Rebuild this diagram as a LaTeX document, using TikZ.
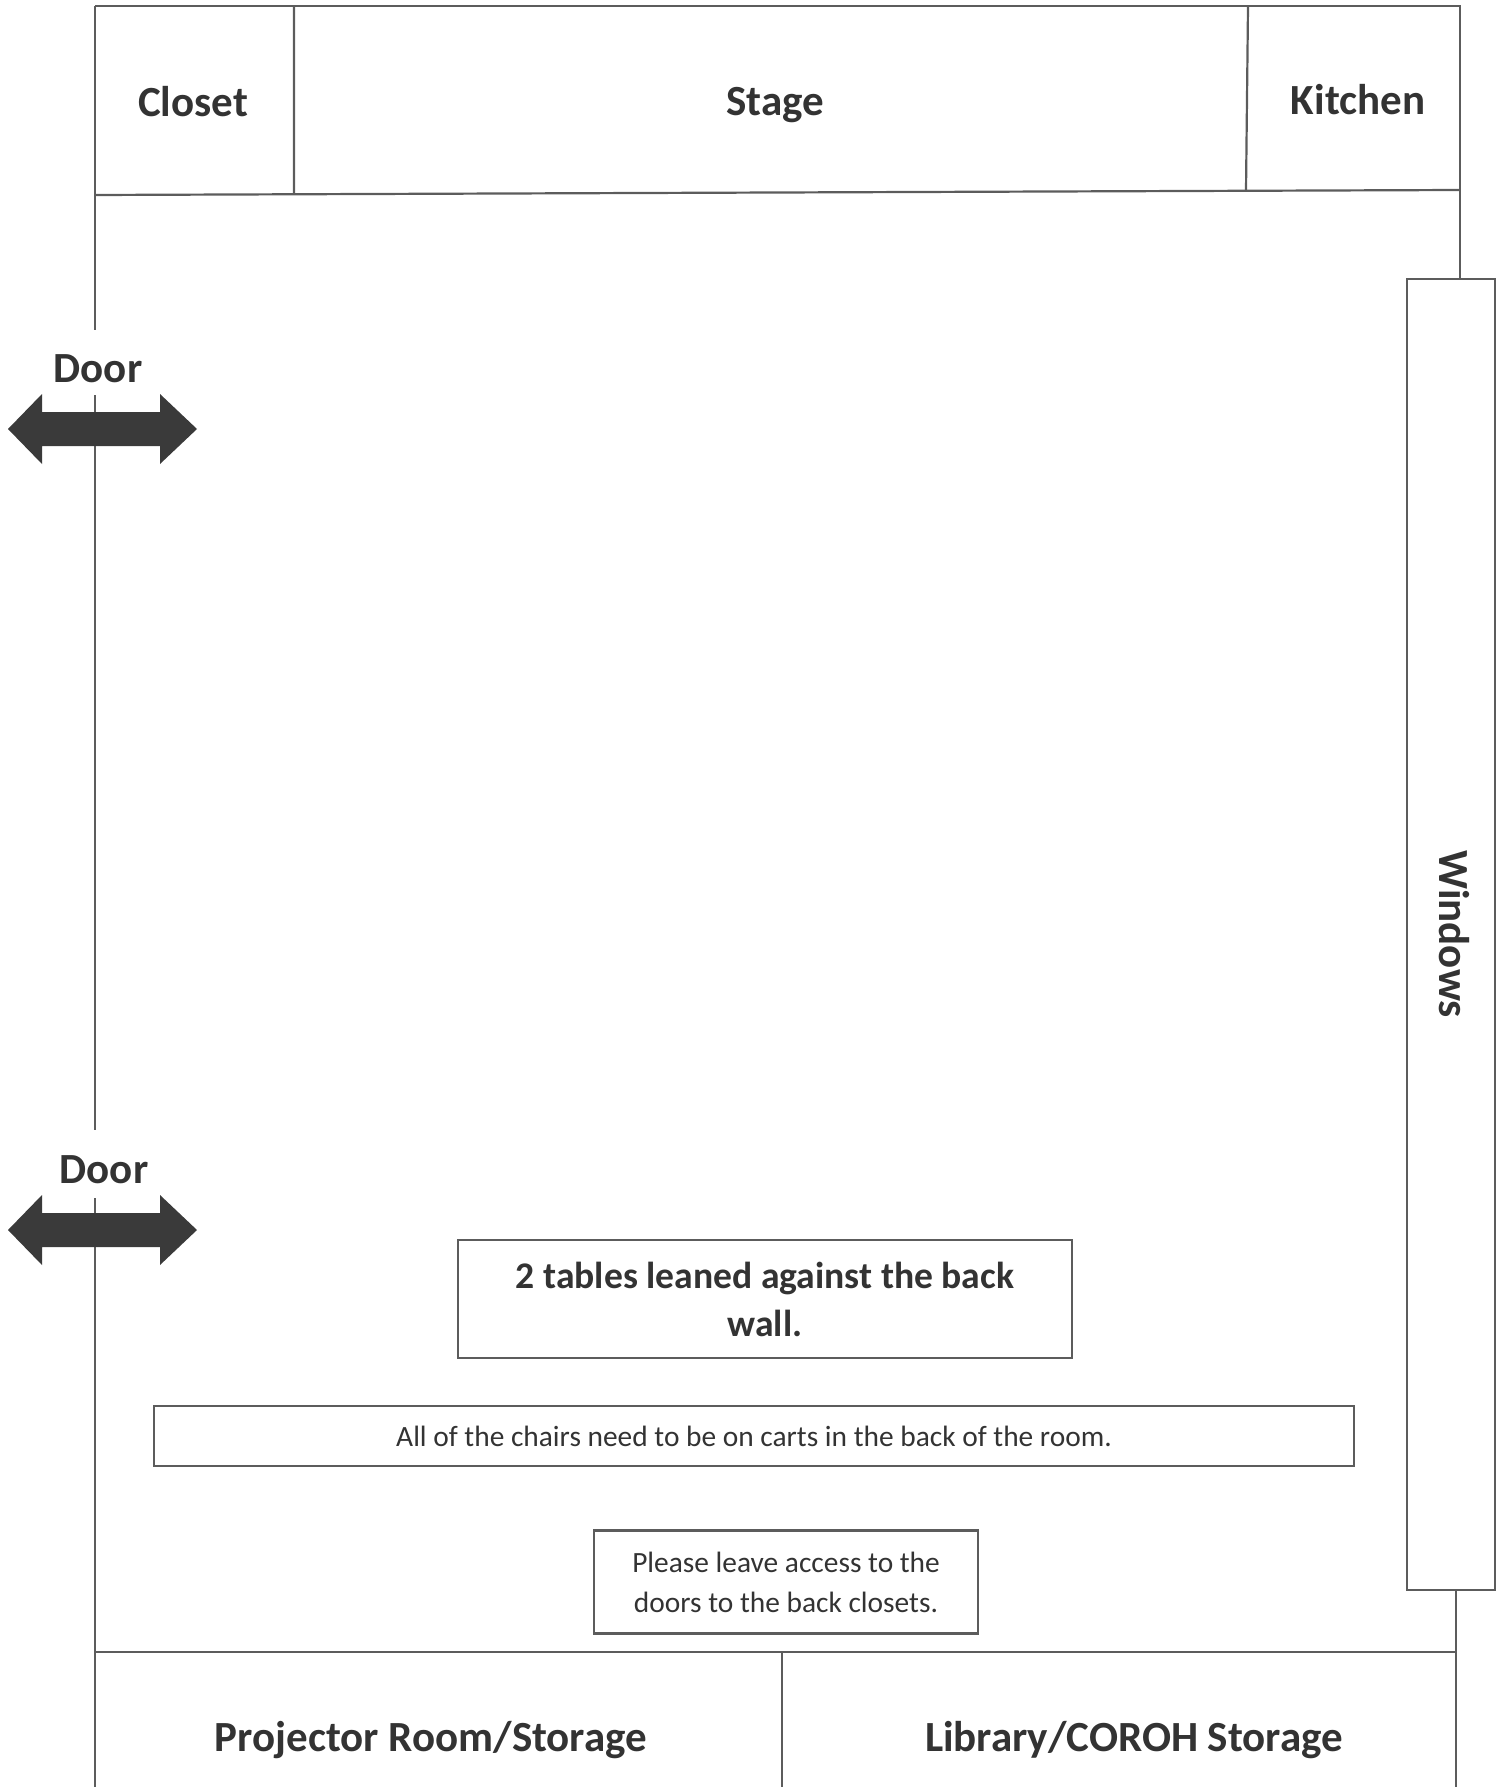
\documentclass[tikz,border=0pt]{standalone}
\usepackage{fontspec}
\setmainfont{Carlito}
\usetikzlibrary{positioning}
\definecolor{wallgrey}{HTML}{5C5C5C}
\definecolor{ink}{HTML}{333333}
\definecolor{arrowfill}{HTML}{3A3A3A}

\begin{document}
\begin{tikzpicture}[x=0.5pt,y=-0.5pt,
    wall/.style={draw=wallgrey,line width=1.1pt},
    roomtext/.style={font=\fontsize{21.5}{25}\selectfont\bfseries,text=ink,text height=1.5ex,text depth=0.25ex},
    notebox/.style={draw=wallgrey,line width=1.1pt,align=center,text=ink,inner sep=0pt}]
    \useasboundingbox (0,0) rectangle (1504,1787);

    % outer walls
    \draw[wall] (95,6) -- (95,330) (95,395) -- (95,1130) (95,1198) -- (95,1787);
    \draw[wall] (95,6) -- (1460,6) -- (1460,279);
    \draw[wall] (1456,1590) -- (1456,1787);

    % front rooms
    \draw[wall] (95,195) -- (1460,190);
    \draw[wall] (294,6) -- (294,195) (1248,6) -- (1246,190);
    \node[roomtext] (closet) at (193,111) {Closet};
    \node[roomtext] (stage) at (775,110) {Stage};
    \node[roomtext] (kitchen) at (1358,109) {Kitchen};

    % windows
    \draw[wall] (1407,279) rectangle (1495,1590);
    \node[roomtext,rotate=-90] (windows) at (1445,934) {Windows};

    % back rooms
    \draw[wall] (95,1652) -- (1456,1652) (782,1652) -- (782,1787);
    \node[roomtext] (projector) at (431,1746) {Projector Room/Storage};
    \node[roomtext] (library) at (1134,1746) {Library/COROH Storage};

    % doors
    \foreach \x/\y/\n in {98/377/1,104/1178/2} {
        \node[roomtext] (door\n) at (\x,\y) {Door};
        \fill[arrowfill] (8,\y+52) -- (42,\y+17) -- (42,\y+35) -- (160,\y+35) -- (160,\y+17)
            -- (197,\y+52) -- (160,\y+87) -- (160,\y+69) -- (42,\y+69) -- (42,\y+87) -- cycle;
    }

    % notes
    \node[notebox,minimum width=307pt,minimum height=59pt,font=\fontsize{18.8}{24}\selectfont\bfseries]
        (tables) at (765,1299) {2 tables leaned against the back\\wall.};
    \node[notebox,minimum width=600pt,minimum height=30pt,font=\fontsize{14.7}{17}\selectfont]
        (chairs) at (754,1436) {All of the chairs need to be on carts in the back of the room.};
    \node[notebox,minimum width=192pt,minimum height=51.5pt,font=\fontsize{14.7}{20}\selectfont]
        (access) at (786,1582) {Please leave access to the\\doors to the back closets.};
\end{tikzpicture}
\end{document}
